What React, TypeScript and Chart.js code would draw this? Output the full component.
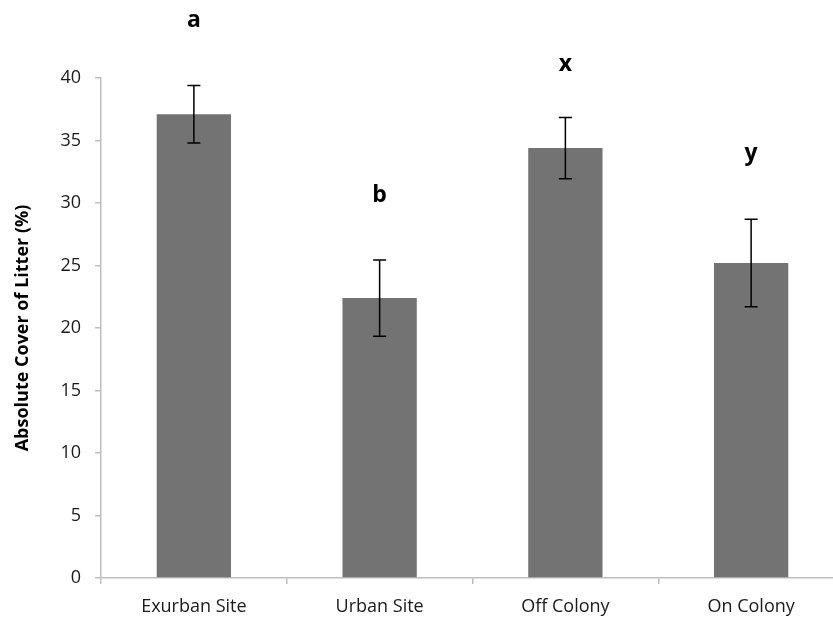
import React, { useEffect, useRef } from "react";
import { Chart, registerables } from "chart.js";

Chart.register(...registerables);

const categories = ["Exurban Site", "Urban Site", "Off Colony", "On Colony"];
const meanValues = [37.1, 22.4, 34.4, 25.2];
const errorValues = [2.3, 3.05, 2.45, 3.5];
const letters = ["a", "b", "x", "y"];
const letterY = [44.6, 30.6, 41.1, 34.0];
const yTicks = [0, 5, 10, 15, 20, 25, 30, 35, 40];

const errorBarPlugin = {
  id: "errorBars",
  afterDatasetsDraw(chart: any) {
    const ctx = chart.ctx;
    const meta = chart.getDatasetMeta(0);
    const yScale = chart.scales.y;
    ctx.save();
    ctx.strokeStyle = "#000";
    ctx.lineWidth = 1.5;
    meta.data.forEach((bar: any, i: number) => {
      const x = bar.x;
      const yTop = yScale.getPixelForValue(meanValues[i] + errorValues[i]);
      const yBot = yScale.getPixelForValue(meanValues[i] - errorValues[i]);
      const half = 6.5;
      ctx.beginPath();
      ctx.moveTo(x, yTop);
      ctx.lineTo(x, yBot);
      ctx.moveTo(x - half, yTop);
      ctx.lineTo(x + half, yTop);
      ctx.moveTo(x - half, yBot);
      ctx.lineTo(x + half, yBot);
      ctx.stroke();
    });
    ctx.fillStyle = "#000";
    ctx.font = "bold 23px 'Open Sans'";
    ctx.textAlign = "center";
    ctx.textBaseline = "middle";
    meta.data.forEach((bar: any, i: number) => {
      ctx.fillText(letters[i], bar.x, yScale.getPixelForValue(letterY[i]));
    });
    ctx.restore();
  },
};

export default function App() {
  const ref = useRef<HTMLCanvasElement>(null);
  useEffect(() => {
    if (!ref.current) return;
    const chart = new Chart(ref.current, {
      type: "bar",
      data: {
        labels: categories,
        datasets: [
          {
            data: meanValues,
            backgroundColor: "#737373",
            borderWidth: 0,
            barPercentage: 0.4,
            categoryPercentage: 1,
          },
        ],
      },
      options: {
        animation: false,
        responsive: false,
        maintainAspectRatio: false,
        layout: { padding: { top: 78, right: 6, left: 0, bottom: 0 } },
        plugins: { legend: { display: false }, tooltip: { enabled: false } },
        scales: {
          x: {
            grid: {
              drawOnChartArea: false,
              drawTicks: true,
              tickLength: 6,
              color: "#bfbfbf",
              lineWidth: 1.5,
              offset: true,
            },
            border: { color: "#bfbfbf", width: 1.5 },
            ticks: {
              color: "#1a1a1a",
              font: { family: "'Open Sans'", size: 18 },
              padding: 12,
              maxRotation: 0,
            },
            afterFit(scale: any) {
              scale.height = 41;
            },
          },
          y: {
            min: 0,
            max: 40,
            afterBuildTicks(scale: any) {
              scale.ticks = yTicks.map((v) => ({ value: v }));
            },
            grid: {
              drawOnChartArea: false,
              drawTicks: true,
              tickLength: 6,
              color: "#bfbfbf",
              lineWidth: 1.5,
            },
            border: { color: "#bfbfbf", width: 1.5 },
            ticks: {
              color: "#1a1a1a",
              font: { family: "'Open Sans'", size: 18 },
              padding: 14,
            },
            title: {
              display: true,
              text: "Absolute Cover of Litter (%)",
              color: "#000",
              font: { family: "'Open Sans'", size: 18, weight: "bold" },
              padding: { top: 12, bottom: 0 },
            },
            afterFit(scale: any) {
              scale.width = 101;
            },
          },
        },
      },
      plugins: [errorBarPlugin],
    });
    return () => chart.destroy();
  }, []);
  return (
    <div
      style={{
        position: "fixed",
        left: 0,
        top: 0,
        width: 833,
        height: 619,
        overflow: "hidden",
        background: "#fff",
      }}
    >
      <canvas ref={ref} width={850} height={619} style={{ display: "block" }} />
    </div>
  );
}
